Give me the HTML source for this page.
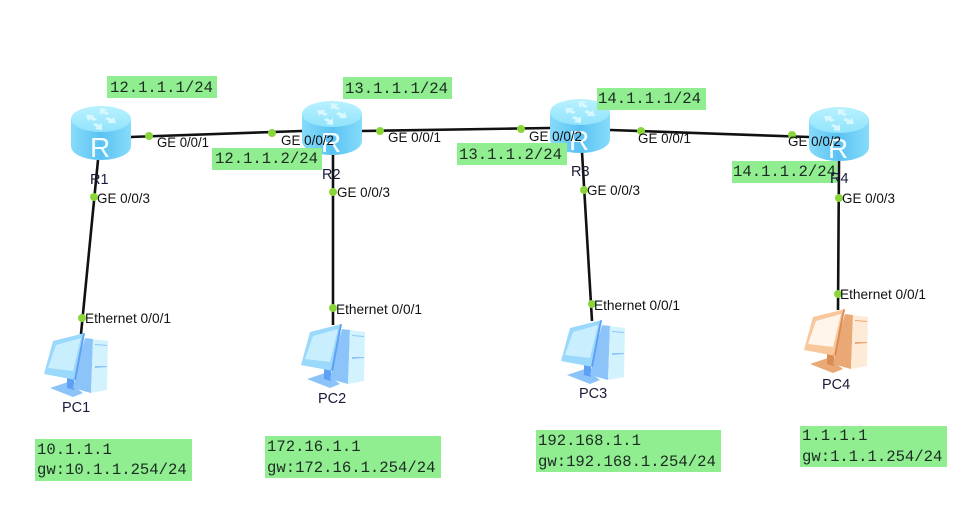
<!DOCTYPE html>
<html>
<head>
<meta charset="utf-8">
<style>
html,body{margin:0;padding:0;background:#fff;overflow:hidden;}
svg{display:block;filter:blur(.35px);}
.l{font-family:"Liberation Sans",Arial,sans-serif;font-size:14px;fill:#111;}
.n{font-family:"Liberation Sans",Arial,sans-serif;font-size:14.5px;fill:#1a1a3a;}
.m{font-family:"Liberation Mono",monospace;font-size:15.6px;fill:#1c2a22;}
.r{font-family:"Liberation Sans",Arial,sans-serif;font-size:28px;fill:#f4fdff;}
</style>
</head>
<body>
<svg width="965" height="505" viewBox="0 0 965 505" xmlns="http://www.w3.org/2000/svg">
<defs>
<linearGradient id="rb" x1="0" x2="1" y1="0" y2="0">
<stop offset="0" stop-color="#86dbfa"/><stop offset=".5" stop-color="#5cc2f3"/><stop offset="1" stop-color="#86dcfa"/>
</linearGradient>
<linearGradient id="rt" x1="0" x2="0" y1="0" y2="1">
<stop offset="0" stop-color="#b8f1fe"/><stop offset="1" stop-color="#92e3fc"/>
</linearGradient>
<symbol id="router" width="60" height="54" viewBox="0 0 60 54" overflow="visible">
<path d="M0 13V40C0 48 13 54 30 54S60 48 60 40V13Z" fill="url(#rb)"/>
<ellipse cx="30" cy="13" rx="30" ry="13" fill="url(#rt)"/>
<g fill="#d8f8ff">
<path d="M29 2l7 1-2 2 4 2-2 2-5-2-2 2z"/>
<path d="M31 24l-7-1 2-2-4-2 2-2 5 2 2-2z"/>
<path d="M15 9l8 0-1 2 4 2-3 2-4-2-2 2z"/>
<path d="M45 17l-8 0 1-2-4-2 3-2 4 2 2-2z"/>
</g>
</symbol>
<symbol id="pc" width="65" height="64" viewBox="0 0 65 64" overflow="visible">
<path d="M7 55L25 49L40 60L30 64Z" style="fill:var(--d)"/>
<path d="M24 44L31 45L31 57L24 55Z" style="fill:var(--e)"/>
<path d="M42 5L50 6L48 60L30 55L35 30Z" style="fill:var(--d)"/>
<path d="M50 6L65 8L64 57L48 60Z" style="fill:var(--f)"/>
<path d="M52 11L64 12V13L52 12ZM52 33L64 33V34L52 35Z" style="fill:var(--d)"/>
<path d="M10 8L42 0L33 47L1 41Z" style="fill:var(--b)"/>
<path d="M40 .5L42 0L33 47L31 46.5Z" style="fill:var(--e)"/>
<path d="M13 12L38 5L30 38L5 35Z" style="fill:var(--s)"/>
</symbol>
</defs>

<!-- links -->
<g stroke="#111" stroke-width="2.6" fill="none">
<line x1="130" y1="137" x2="302" y2="131"/>
<line x1="362" y1="131" x2="550" y2="128"/>
<line x1="610" y1="130" x2="809" y2="137"/>
<line x1="98" y1="160" x2="81" y2="334"/>
<line x1="333" y1="155" x2="333" y2="325"/>
<line x1="582" y1="152" x2="592" y2="321"/>
<line x1="839" y1="160" x2="838" y2="310"/>
</g>

<!-- devices -->
<use href="#router" x="71" y="106"/>
<use href="#router" x="302" y="101"/>
<use href="#router" x="550" y="99"/>
<use href="#router" x="809" y="107"/>
<text class="r" x="90" y="157">R</text>
<text class="r" x="321" y="152">R</text>
<text class="r" x="569" y="150">R</text>
<text class="r" x="828" y="158">R</text>

<use href="#pc" x="43" y="333" style="--b:#9ad8fc;--d:#8cc4fa;--e:#5f9ff5;--f:#d2f3fe;--s:#c9eefd"/>
<use href="#pc" x="300" y="324" style="--b:#9ad8fc;--d:#8cc4fa;--e:#5f9ff5;--f:#d2f3fe;--s:#c9eefd"/>
<use href="#pc" x="560" y="320" style="--b:#9ad8fc;--d:#8cc4fa;--e:#5f9ff5;--f:#d2f3fe;--s:#c9eefd"/>
<use href="#pc" x="803" y="309" style="--b:#f9c79c;--d:#eaa874;--e:#d98d55;--f:#fdebd8;--s:#fff5ea"/>

<!-- green boxes -->
<g fill="#90ee90">
<rect x="107" y="76" width="110" height="22"/>
<rect x="212" y="148" width="110" height="22"/>
<rect x="343" y="77" width="109" height="22"/>
<rect x="457" y="143" width="110" height="22"/>
<rect x="597" y="88" width="109" height="22"/>
<rect x="732" y="161" width="105" height="22"/>
<rect x="35" y="439" width="157" height="42"/>
<rect x="265" y="436" width="176" height="42"/>
<rect x="536" y="430" width="185" height="42"/>
<rect x="800" y="426" width="147" height="41"/>
</g>

<!-- dots -->
<g fill="#8ad63a">
<circle cx="149" cy="136" r="4"/><circle cx="272" cy="133" r="4"/>
<circle cx="380" cy="131" r="4"/><circle cx="521" cy="129" r="4"/>
<circle cx="641" cy="131" r="4"/><circle cx="792" cy="135" r="4"/>
<circle cx="94" cy="197" r="4"/><circle cx="333" cy="192" r="4"/>
<circle cx="584" cy="190" r="4"/><circle cx="839" cy="198" r="4"/>
<circle cx="82" cy="318" r="4"/><circle cx="333" cy="308" r="4"/>
<circle cx="592" cy="304" r="4"/><circle cx="838" cy="294" r="4"/>
</g>

<!-- mono labels -->
<text class="m" x="110" y="92">12.1.1.1/24</text>
<text class="m" x="215" y="163">12.1.1.2/24</text>
<text class="m" x="345" y="93">13.1.1.1/24</text>
<text class="m" x="459" y="159">13.1.1.2/24</text>
<text class="m" x="598" y="103">14.1.1.1/24</text>
<text class="m" x="733" y="176">14.1.1.2/24</text>
<text class="m" x="37" y="454">10.1.1.1</text>
<text class="m" x="37" y="474">gw:10.1.1.254/24</text>
<text class="m" x="267" y="451">172.16.1.1</text>
<text class="m" x="267" y="472">gw:172.16.1.254/24</text>
<text class="m" x="538" y="445">192.168.1.1</text>
<text class="m" x="538" y="466">gw:192.168.1.254/24</text>
<text class="m" x="802" y="440">1.1.1.1</text>
<text class="m" x="802" y="461">gw:1.1.1.254/24</text>

<!-- port labels -->
<g lengthAdjust="spacingAndGlyphs">
<text class="l" x="157" y="147" textLength="52" lengthAdjust="spacingAndGlyphs">GE 0/0/1</text>
<text class="l" x="281" y="145" textLength="53" lengthAdjust="spacingAndGlyphs">GE 0/0/2</text>
<text class="l" x="388" y="142" textLength="53" lengthAdjust="spacingAndGlyphs">GE 0/0/1</text>
<text class="l" x="529" y="141" textLength="53" lengthAdjust="spacingAndGlyphs">GE 0/0/2</text>
<text class="l" x="638" y="143" textLength="53" lengthAdjust="spacingAndGlyphs">GE 0/0/1</text>
<text class="l" x="788" y="146" textLength="53" lengthAdjust="spacingAndGlyphs">GE 0/0/2</text>
<text class="l" x="97" y="203" textLength="53" lengthAdjust="spacingAndGlyphs">GE 0/0/3</text>
<text class="l" x="337" y="197" textLength="53" lengthAdjust="spacingAndGlyphs">GE 0/0/3</text>
<text class="l" x="587" y="195" textLength="53" lengthAdjust="spacingAndGlyphs">GE 0/0/3</text>
<text class="l" x="842" y="203" textLength="53" lengthAdjust="spacingAndGlyphs">GE 0/0/3</text>
<text class="l" x="85" y="323" textLength="86" lengthAdjust="spacingAndGlyphs">Ethernet 0/0/1</text>
<text class="l" x="336" y="314" textLength="86" lengthAdjust="spacingAndGlyphs">Ethernet 0/0/1</text>
<text class="l" x="594" y="310" textLength="86" lengthAdjust="spacingAndGlyphs">Ethernet 0/0/1</text>
<text class="l" x="840" y="299" textLength="86" lengthAdjust="spacingAndGlyphs">Ethernet 0/0/1</text>
</g>

<!-- names -->
<text class="n" x="90" y="184">R1</text>
<text class="n" x="322" y="179">R2</text>
<text class="n" x="571" y="176">R3</text>
<text class="n" x="830" y="183">R4</text>
<text class="n" x="62" y="412">PC1</text>
<text class="n" x="318" y="403">PC2</text>
<text class="n" x="579" y="398">PC3</text>
<text class="n" x="822" y="389">PC4</text>
</svg>
</body>
</html>
